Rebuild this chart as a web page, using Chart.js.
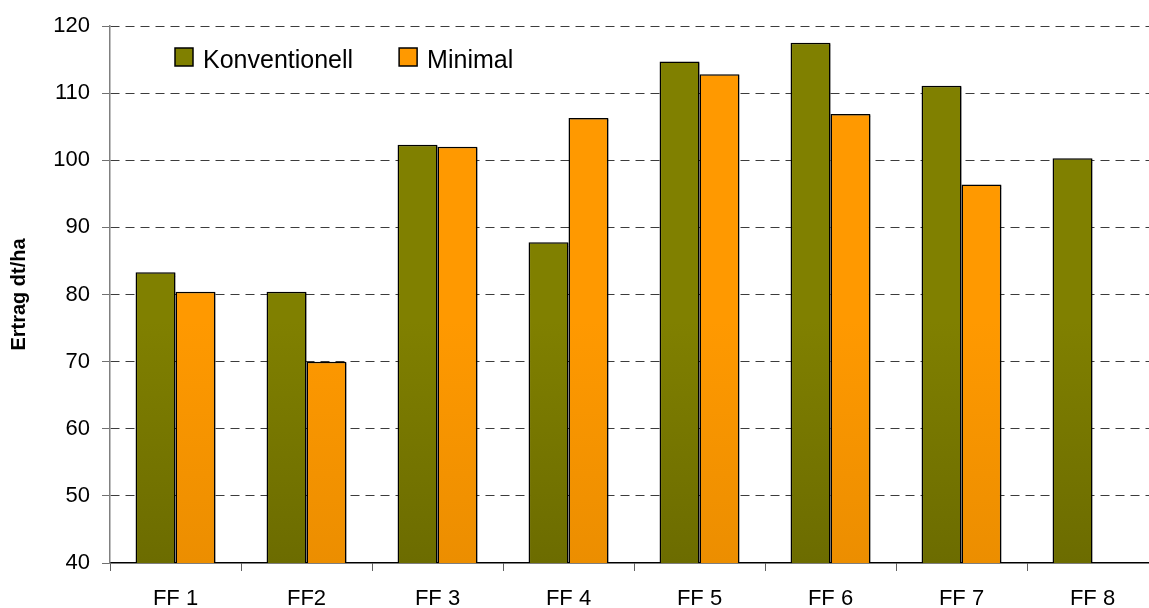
<!DOCTYPE html>
<html>
<head>
<meta charset="utf-8">
<script src="https://cdn.jsdelivr.net/npm/chart.js@4"></script>
<style>
  html, body { margin: 0; padding: 0; background: #fff; overflow: hidden; }
  #wrap { position: relative; width: 1170px; height: 608px; }
</style>
</head>
<body>
<div id="wrap"><canvas id="c"></canvas></div>
<script>
// Ertrag je Feld (dt/ha), konventionelle vs. minimale Bodenbearbeitung
const categories = ['FF 1', 'FF2', 'FF 3', 'FF 4', 'FF 5', 'FF 6', 'FF 7', 'FF 8'];
const konventionell = [83.3, 80.4, 102.3, 87.8, 114.7, 117.5, 111.1, 100.3];
const minimal = [80.4, 70.0, 102.0, 106.3, 112.8, 106.9, 96.4, null];
const yMin = 40, yMax = 120, yStep = 10;
const yTitle = 'Ertrag dt/ha';

const FONT = "'Liberation Sans', Arial, Helvetica, sans-serif";

// vertical fill, slightly darker towards the axis
function shaded(top, bottom) {
  return (ctx) => {
    const area = ctx.chart.chartArea;
    if (!area) return top;
    const g = ctx.chart.ctx.createLinearGradient(0, area.top, 0, area.bottom);
    g.addColorStop(0, top);
    g.addColorStop(0.55, top);
    g.addColorStop(1, bottom);
    return g;
  };
}

// soft drop shadow behind the bars
const barShadow = {
  id: 'barShadow',
  beforeDatasetsDraw(chart) {
    const c = chart.ctx;
    c.save();
    c.shadowColor = 'rgba(0,0,0,0.35)';
    c.shadowOffsetX = 2;
    c.shadowOffsetY = 1;
    c.shadowBlur = 1;
  },
  afterDatasetsDraw(chart) { chart.ctx.restore(); }
};

// legend row drawn inside the plot area, top left
const innerLegend = {
  id: 'innerLegend',
  afterDraw(chart, args, opts) {
    const c = chart.ctx;
    c.save();
    c.font = opts.fontSize + 'px ' + FONT;
    c.textBaseline = 'alphabetic';
    let x = opts.x;
    chart.data.datasets.forEach((ds) => {
      c.fillStyle = ds.legendColor;
      c.fillRect(x, opts.y, opts.box, opts.box);
      c.lineWidth = 1.5;
      c.strokeStyle = '#000';
      c.strokeRect(x, opts.y, opts.box, opts.box);
      c.fillStyle = '#000';
      c.fillText(ds.label, x + opts.box + 10, opts.baseline);
      x += opts.box + 10 + c.measureText(ds.label).width + opts.gap;
    });
    c.restore();
  }
};

new Chart(document.getElementById('c'), {
  type: 'bar',
  data: {
    labels: categories,
    datasets: [
      {
        label: 'Konventionell',
        data: konventionell,
        legendColor: '#808000',
        backgroundColor: shaded('#808000', '#6c6c00'),
        borderColor: '#000',
        borderWidth: 1.5,
        borderSkipped: false
      },
      {
        label: 'Minimal',
        data: minimal,
        legendColor: '#ff9900',
        backgroundColor: shaded('#ff9900', '#ec8e00'),
        borderColor: '#000',
        borderWidth: 1.5,
        borderSkipped: false
      }
    ]
  },
  options: {
    responsive: true,
    maintainAspectRatio: false,
    animation: false,
    layout: { padding: { top: 26, right: 12, bottom: 0, left: 0 } },
    datasets: { bar: { barPercentage: 1.0, categoryPercentage: 0.61 } },
    plugins: {
      legend: { display: false },
      tooltip: { enabled: false },
      innerLegend: { x: 175, y: 48, box: 18, baseline: 68, fontSize: 25, gap: 46 }
    },
    scales: {
      x: {
        offset: true,
        afterFit(scale) { scale.height = 45; },
        grid: {
          offset: true,
          drawOnChartArea: false,
          drawTicks: true,
          tickLength: 8,
          tickColor: '#606060',
          tickWidth: 1
        },
        border: { display: true, color: '#000', width: 1.5 },
        ticks: {
          color: '#000',
          font: { family: FONT, size: 22 },
          padding: 15,
          maxRotation: 0,
          autoSkip: false
        }
      },
      y: {
        min: yMin,
        max: yMax,
        afterFit(scale) { scale.width = 110; },
        ticks: {
          stepSize: yStep,
          color: '#000',
          font: { family: FONT, size: 22 },
          padding: 12
        },
        grid: {
          color: (ctx) => (ctx.tick && ctx.tick.value === yMin) ? 'rgba(0,0,0,0)' : '#3c3c3c',
          lineWidth: 1,
          drawTicks: true,
          tickLength: 8,
          tickColor: '#707070',
          tickBorderDash: []
        },
        border: { display: true, color: '#808080', width: 1.5, dash: [9, 6] },
        title: {
          display: true,
          text: yTitle,
          color: '#000',
          font: { family: FONT, size: 20, weight: 'bold' },
          padding: { top: 7, bottom: 0 }
        }
      }
    }
  },
  plugins: [barShadow, innerLegend]
});
</script>
</body>
</html>
